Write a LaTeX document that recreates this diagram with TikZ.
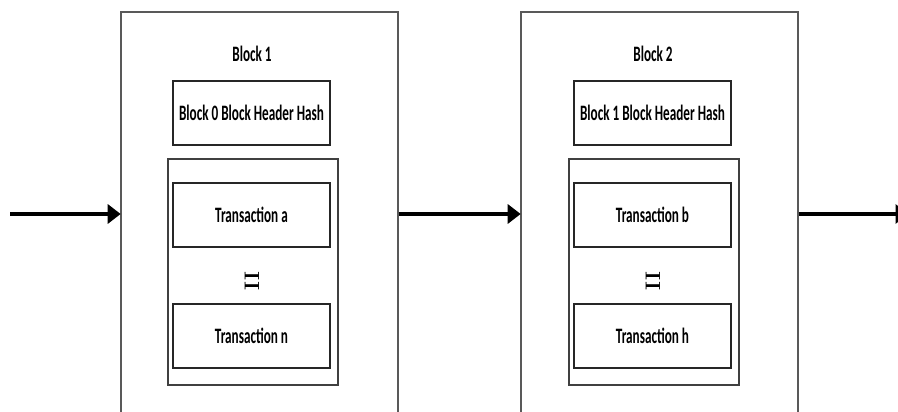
\documentclass[tikz,border=0pt]{standalone}
\usepackage{fontspec}
\usepackage{graphicx}
\usetikzlibrary{arrows.meta}
\newfontfamily\lblfont[FakeStretch=0.6]{Carlito}
\tikzset{
  x=1pt, y=1pt,
  label text/.style={font=\lblfont\bfseries\fontsize{22}{24}\selectfont, text=black},
  blockbox/.style={draw=black!65, line width=1.6pt, minimum width=277pt, minimum height=420pt, inner sep=0pt},
  hashbox/.style={draw=black!85, line width=1.4pt, minimum width=157pt, minimum height=64pt, inner sep=0pt, label text},
  txgroup/.style={draw=black!75, line width=1.3pt, minimum width=170pt, minimum height=226pt, inner sep=0pt},
  txbox/.style={draw=black!85, line width=1.4pt, minimum width=157pt, minimum height=64pt, inner sep=0pt, label text},
  dots/.style={inner sep=0pt, font=\bfseries\fontsize{21}{23}\selectfont},
  chain/.style={line width=4.8pt, -{Triangle[length=13pt,width=19pt]}, shorten >=-0.5pt}
}
\begin{document}
\begin{tikzpicture}
\clip (0,0) rectangle (898,412);
\fill[white] (0,0) rectangle (898,412);

% Block 1
\node[blockbox] (blk1) at (259.5,190) {};
\node[label text] (title1) at (252,358) {Block 1};
\node[hashbox] (hash1) at (251.5,299) {Block 0 Block Header Hash};
\node[txgroup] (grp1) at (253,140) {};
\node[txbox] (txa) at (251.5,197) {Transaction a};
\node[dots] (dots1) at (252,131) {\rotatebox{90}{II}};
\node[txbox] (txn) at (251.5,76) {Transaction n};

% Block 2
\node[blockbox] (blk2) at (659.5,190) {};
\node[label text] (title2) at (653,358) {Block 2};
\node[hashbox] (hash2) at (652.5,299) {Block 1 Block Header Hash};
\node[txgroup] (grp2) at (654,140) {};
\node[txbox] (txb) at (652.5,197) {Transaction b};
\node[dots] (dots2) at (653,131) {\rotatebox{90}{II}};
\node[txbox] (txh) at (652.5,76) {Transaction h};

% Chain links
\coordinate (in) at (10,198);
\coordinate (out) at (908,198);
\draw[chain] (in) -- (in -| blk1.west);
\draw[chain] (in -| blk1.east) -- (in -| blk2.west);
\draw[chain] (in -| blk2.east) -- (out);
\end{tikzpicture}
\end{document}
